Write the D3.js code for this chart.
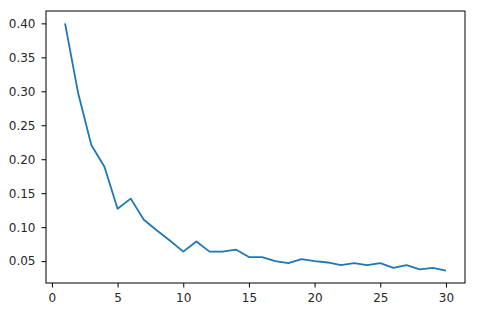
<!DOCTYPE html>
<html>
<head>
<meta charset="utf-8">
<script src="https://cdn.jsdelivr.net/npm/d3@7"></script>
<style>
  body { margin: 0; background: #fff; }
  text { font-family: "DejaVu Sans", sans-serif; font-size: 12px; fill: #262626; }
</style>
</head>
<body>
<svg id="chart" width="478" height="315"></svg>
<script>
// epochs and loss values
var epochs = d3.range(1, 31);
var values = [0.400, 0.297, 0.221, 0.189, 0.127, 0.142, 0.111, 0.095, 0.080, 0.064,
              0.079, 0.064, 0.064, 0.067, 0.056, 0.056, 0.050, 0.047, 0.053, 0.050,
              0.048, 0.044, 0.047, 0.044, 0.047, 0.040, 0.044, 0.038, 0.040, 0.036];
var xTicks = [0, 5, 10, 15, 20, 25, 30];
var yTicks = [0.05, 0.10, 0.15, 0.20, 0.25, 0.30, 0.35, 0.40];

var svg = d3.select("#chart");
var margin = {top: 11, right: 13, bottom: 32, left: 46};
var width = 478 - margin.left - margin.right;
var height = 315 - margin.top - margin.bottom;

var g = svg.append("g").attr("transform", "translate(" + margin.left + "," + margin.top + ")");

// matplotlib style 5% padding
var xPad = (30 - 1) * 0.05;
var yMin = d3.min(values), yMax = d3.max(values);
var yPad = (yMax - yMin) * 0.05;

var x = d3.scaleLinear().domain([1 - xPad, 30 + xPad]).range([0, width]);
var y = d3.scaleLinear().domain([yMin - yPad, yMax + yPad]).range([height, 0]);

var line = d3.line()
    .x(function(d, i) { return x(epochs[i]); })
    .y(function(d) { return y(d); });

g.append("path")
    .datum(values)
    .attr("fill", "none")
    .attr("stroke", "#1f77b4")
    .attr("stroke-width", 1.8)
    .attr("stroke-linejoin", "round")
    .attr("d", line);

var xAxis = g.append("g")
    .attr("transform", "translate(0," + height + ")")
    .call(d3.axisBottom(x).tickValues(xTicks).tickSize(4.5).tickPadding(5.5).tickFormat(d3.format("d")));

var yAxis = g.append("g")
    .call(d3.axisLeft(y).tickValues(yTicks).tickSize(4.5).tickPadding(6).tickFormat(d3.format(".2f")));

[xAxis, yAxis].forEach(function(a) {
    a.select(".domain").remove();
    a.selectAll("line").attr("stroke", "#000").attr("stroke-width", 1);
    a.selectAll("text").attr("font-family", null).attr("font-size", null);
});

// frame
g.append("rect")
    .attr("x", 0).attr("y", 0)
    .attr("width", width).attr("height", height)
    .attr("fill", "none")
    .attr("stroke", "#000")
    .attr("stroke-width", 1);
</script>
</body>
</html>
